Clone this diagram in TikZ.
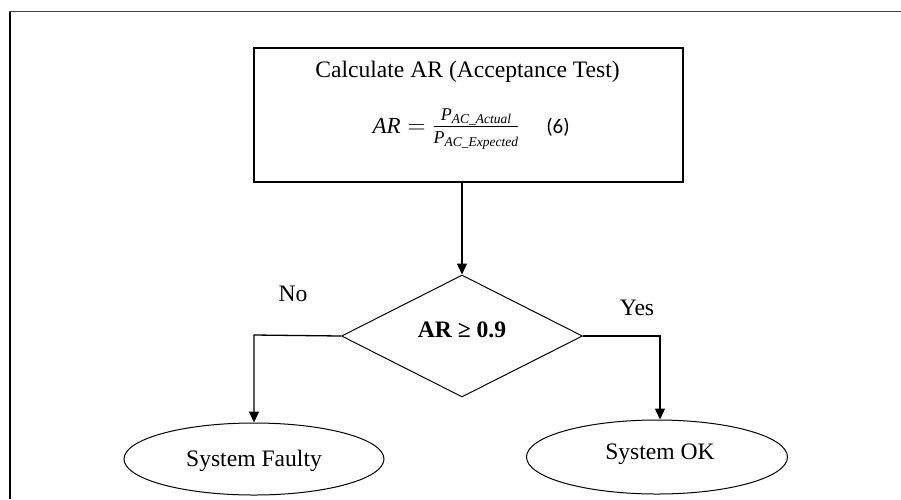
\documentclass[tikz,border=0pt]{standalone}
\usepackage{amsmath}
\usepackage{fontspec}
\setmainfont{Liberation Serif}
\newfontfamily\calibrifont{Carlito}
\usetikzlibrary{shapes.geometric,arrows.meta}
\newcommand{\bigP}[1]{\text{\fontsize{18}{20}\selectfont\itshape P\raisebox{-3.5pt}{\fontsize{13.5}{15}\selectfont\itshape #1}}}
\begin{document}
\begin{tikzpicture}[x=1pt,y=-1pt,
  txt/.style={font=\fontsize{23.6}{28}\selectfont, inner sep=0pt},
  boxnode/.style={draw, line width=1.3pt, inner sep=0pt},
  decide/.style={draw, diamond, line width=1pt, inner sep=0pt, minimum width=241pt, minimum height=122pt},
  term/.style={draw, ellipse, line width=1pt, inner sep=0pt},
  conn/.style={line width=1.3pt},
  arr/.style={conn, -{Triangle[length=11pt,width=10pt]}}]
\useasboundingbox (0,0) rectangle (901,499);
% outer frame (top and left edges visible)
\draw[line width=2pt] (10,499) -- (10,11.5);
\draw[line width=1.5pt, black!75] (9,11.5) -- (901,11.5);
% process box
\node[boxnode, minimum width=429pt, minimum height=134pt] (calc) at (468.5,115) {};
\node[txt] (title) at (467.5,72) {Calculate AR (Acceptance Test)};
\node[inner sep=0pt, font=\fontsize{23}{27}\selectfont] (eq) at (446,129)
  {$\textit{AR} = \frac{\bigP{AC\_Actual}\rule[-3pt]{0pt}{3pt}}{\rule{0pt}{15pt}\bigP{AC\_Expected}}$};
\node[inner sep=0pt, font=\calibrifont\fontsize{21}{25}\selectfont] (num) at (558,127) {(6)};
% decision
\node[decide] (d) at (462,336) {};
\node[txt, font=\fontsize{23.6}{28}\selectfont\bfseries] (dt) at (462,330) {AR ≥ 0.9};
% terminals
\node[term, minimum width=260pt, minimum height=72pt] (sf) at (254,459) {};
\node[txt] (sft) at (254,461) {System Faulty};
\node[term, minimum width=261pt, minimum height=74pt] (ok) at (657,457) {};
\node[txt] (okt) at (660,454) {System OK};
% labels
\node[txt] (no) at (293,294) {No};
\node[txt] (yes) at (637,308) {Yes};
% connectors
\coordinate (nc) at (254,335);
\coordinate (yc) at (660,336);
\draw[arr] (d.north |- calc.south) -- (d.north);
\draw[arr] (d.west) -- (nc) -- (sf.north);
\draw[arr] (d.east) -- (yc) -- (yc |- ok.north);
\end{tikzpicture}
\end{document}
